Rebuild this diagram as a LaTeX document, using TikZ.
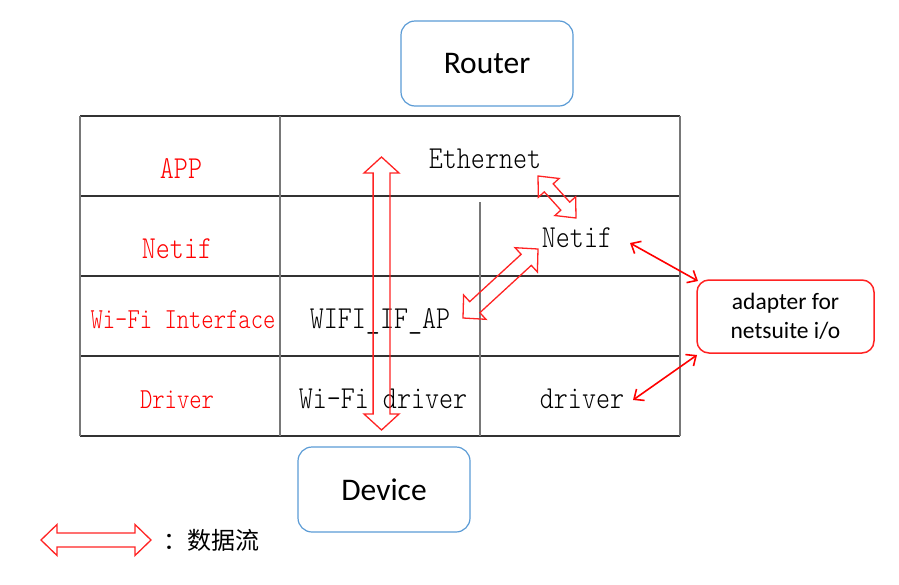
\documentclass[tikz,border=0pt]{standalone}
\usepackage{fontspec}
\setmainfont{Carlito}
\newfontfamily\tblfont[FakeStretch=0.835]{Latin Modern Mono Light}
\newfontfamily\tblfontsm[FakeStretch=0.81]{Latin Modern Mono Light}
\newfontfamily\cjk{Noto Sans CJK SC}
\usetikzlibrary{calc,arrows.meta}
\definecolor{boxblue}{RGB}{91,155,213}
\definecolor{arrred}{RGB}{255,35,35}
\definecolor{hline}{RGB}{50,50,50}
\definecolor{vline}{RGB}{120,120,120}
\newcommand\myblockarr[5]{%
  \draw[blk] (#1)
    -- ($(#1)!#5!(#2)!#4!90:(#2)$)
    -- ($(#1)!#5!(#2)!#3!90:(#2)$)
    -- ($(#2)!#5!(#1)!#3!-90:(#1)$)
    -- ($(#2)!#5!(#1)!#4!-90:(#1)$)
    -- (#2)
    -- ($(#2)!#5!(#1)!#4!90:(#1)$)
    -- ($(#2)!#5!(#1)!#3!90:(#1)$)
    -- ($(#1)!#5!(#2)!#3!-90:(#2)$)
    -- ($(#1)!#5!(#2)!#4!-90:(#2)$)
    -- cycle;}
\tikzset{
  blk/.style={draw=arrred, line width=1.3pt, line join=miter},
  hl/.style={draw=hline, line width=1.3pt},
  vl/.style={draw=vline, line width=1.8pt},
  bluebox/.style={draw=boxblue, line width=1.2pt, rounded corners=14pt, minimum width=172pt, minimum height=85pt, font=\fontsize{31.5}{36}\selectfont, inner sep=0pt},
  redbox/.style={draw=arrred, line width=1.5pt, rounded corners=12pt, minimum width=177pt, minimum height=73pt, align=center, font=\fontsize{23.5}{29}\selectfont, inner sep=0pt},
  lbl/.style={anchor=base, inner sep=0pt, text=red, font=\tblfont\fontsize{32}{36}\selectfont},
  lblsm/.style={anchor=base, inner sep=0pt, text=red, font=\tblfontsm\fontsize{29}{36}\selectfont},
  cell/.style={anchor=base, inner sep=0pt, text=black, font=\tblfont\fontsize{32}{36}\selectfont},
  thin/.style={draw=red, line width=1.6pt, {Straight Barb[length=8pt,width=14pt]}-{Straight Barb[length=8pt,width=14pt]}}
}
\begin{document}
\begin{tikzpicture}[x=1pt,y=-1pt]
\useasboundingbox (0,0) rectangle (899,584);
% table
\foreach \yy in {116,196,276,356,436} \draw[hl] (80,\yy) -- (680,\yy);
\draw[vl] (80,116) -- (80,436);
\draw[vl] (280,116) -- (280,436);
\draw[vl] (680,116) -- (680,436);
\draw[vl] (480,202) -- (480,436);
% labels
\node[lbl] (app) at (181,178) {APP};
\node[lbl] (netifL) at (177,258) {Netif};
\node[lblsm] (wifiif) at (183,328) {Wi-Fi Interface};
\node[lblsm] (drv) at (177,408) {Driver};
\node[cell] (eth) at (485,168) {Ethernet};
\node[cell] (netifR) at (577,247) {Netif};
\node[cell] (wifiap) at (380,328) {WIFI\_IF\_AP};
\node[cell] (wifidrv) at (383,408) {Wi-Fi driver};
\node[cell] (driver) at (582,408) {driver};
% boxes
\node[bluebox] (router) at (487,63.5) {Router};
\node[bluebox] (device) at (384,489.5) {Device};
\node[redbox] (adapter) at (785.5,316.5) {adapter for\\netsuite i/o};
% block arrows
\coordinate (v1) at (381.5,157);
\coordinate (v2) at (381.5,430);
\myblockarr{v1}{v2}{8.4pt}{17.5pt}{16pt}
\coordinate (e1) at (538,176);
\coordinate (e2) at (576,218);
\myblockarr{e1}{e2}{6pt}{14pt}{16pt}
\coordinate (w1) at (463,318);
\coordinate (w2) at (538,249);
\myblockarr{w1}{w2}{7.5pt}{16.5pt}{16pt}
% thin arrows
\coordinate (nA) at (630,243);
\coordinate (aA) at (698,281);
\draw[thin] (nA) -- (aA);
\coordinate (dA) at (633,400);
\coordinate (aB) at (697,355);
\draw[thin] (dA) -- (aB);
% legend
\coordinate (g1) at (41,540);
\coordinate (g2) at (151,540);
\myblockarr{g1}{g2}{7pt}{15.5pt}{16pt}
\node[anchor=west, inner sep=0pt, font=\cjk\fontsize{24}{28}\selectfont] (legend) at (163,540) {：数据流};
\end{tikzpicture}
\end{document}
